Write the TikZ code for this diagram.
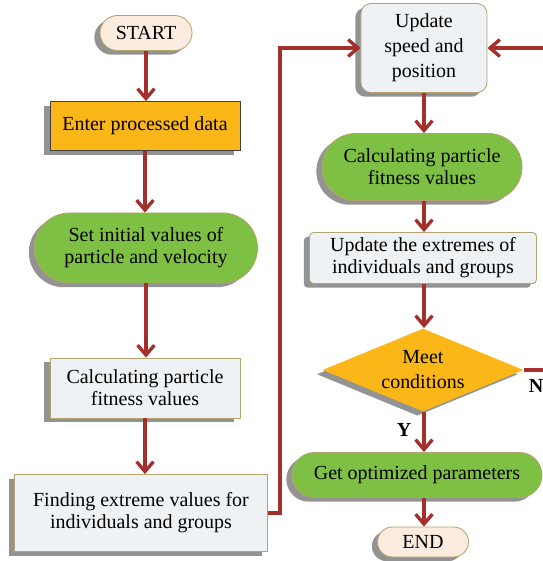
\documentclass[tikz,border=0pt]{standalone}
\usepackage{fontspec}
\setmainfont{Liberation Serif}
\usetikzlibrary{shapes.geometric,shapes.misc,shadows,arrows.meta}
\definecolor{flowred}{HTML}{A3302B}
\definecolor{khaki}{HTML}{B3A46E}
\definecolor{peach}{HTML}{FCEBDF}
\definecolor{amber}{HTML}{FBB717}
\definecolor{leaf}{HTML}{7DC043}
\definecolor{mist}{HTML}{EEF2F5}
\begin{document}
\begin{tikzpicture}[x=0.025cm, y=-0.025cm, line width=0.6pt,
  every node/.style={font=\fontsize{14.2}{15.8}\selectfont, align=center, inner sep=0pt},
  dropgray/.style={drop shadow={shadow xshift=-4pt, shadow yshift=-3pt, fill=black!50, opacity=0.85}},
  pill/.style={rounded rectangle, draw=khaki, dropgray},
  box/.style={rectangle, draw=khaki, fill=mist, dropgray},
  link/.style={draw=flowred, line width=2.4pt, -{Straight Barb[length=7pt,width=12pt]}},
  tag/.style={font=\fontsize{14.2}{15.8}\selectfont\bfseries}]
  \useasboundingbox (0,0) rectangle (542,561);
  \node[pill, fill=peach, minimum width=2.3cm, minimum height=0.875cm] (start) at (146,33) {START};
  \node[rectangle, draw=black!75, fill=amber, dropgray, minimum width=4.75cm, minimum height=1.225cm] (enter) at (145,126) {Enter processed data};
  \node[pill, fill=leaf, minimum width=5.575cm, minimum height=1.75cm] (init) at (146,248) {Set initial values of\\particle and velocity};
  \node[box, minimum width=4.75cm, minimum height=1.5cm] (fitL) at (145,388) {Calculating particle\\fitness values};
  \node[box, minimum width=6.325cm, minimum height=1.925cm] (findL) at (141,513) {Finding extreme values for\\individuals and groups};
  \node[box, rounded corners=0.25cm, minimum width=3.15cm, minimum height=2.225cm] (update) at (424,48) {Update\\[2pt]speed and\\[2pt]position};
  \node[pill, fill=leaf, minimum width=5cm, minimum height=1.675cm] (fitR) at (422,167) {Calculating particle\\fitness values};
  \node[box, rounded corners=0.1cm, minimum width=5.675cm, minimum height=1.275cm] (extR) at (423,258) {Update the extremes of\\individuals and groups};
  \node[diamond, aspect=2.4, fill=amber, dropgray, minimum width=5.025cm, minimum height=2.075cm] (meet) at (423,370) {Meet\\[2pt]conditions};
  \node[pill, fill=leaf, minimum width=6.25cm, minimum height=1.125cm] (optim) at (417,475) {Get optimized parameters};
  \node[pill, fill=peach, minimum width=2.275cm, minimum height=0.75cm] (finish) at (423,542) {END};
  \node[tag] (yes) at (404,430) {Y};
  \node[tag] (no) at (536,386) {N};
  \coordinate (bendL) at (280,300);
  \coordinate (bendR) at (560,200);
  \draw[link] (start.south) -- (start.south |- enter.north);
  \draw[link] (enter.south) -- (enter.south |- init.north);
  \draw[link] (init.south) -- (init.south |- fitL.north);
  \draw[link] (fitL.south) -- (fitL.south |- findL.north);
  \draw[link] (findL.east) -| (bendL) |- (update.west);
  \draw[link] (update.south) -- (update.south |- fitR.north);
  \draw[link] (update.south |- fitR.south) -- (update.south |- extR.north);
  \draw[link] (update.south |- extR.south) -- (update.south |- meet.north);
  \draw[link] (update.south |- meet.south) -- (update.south |- optim.north);
  \draw[link] (update.south |- optim.south) -- (update.south |- finish.north);
  \draw[link] (meet.east) -| (bendR) |- (update.east);
\end{tikzpicture}
\end{document}
